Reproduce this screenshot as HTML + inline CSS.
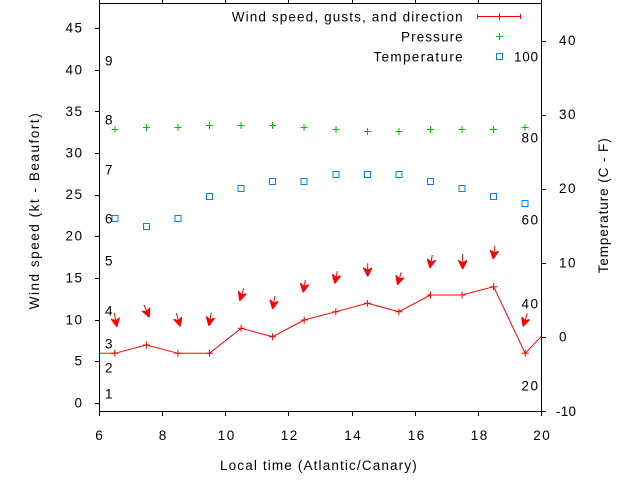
<!DOCTYPE html>
<html><head><meta charset="utf-8"><style>
html,body{margin:0;padding:0;background:#fff;}
svg{display:block;}
text{font-family:"Liberation Sans",Arial,sans-serif;font-size:13.5px;fill:#000;}
</style></head><body>
<svg width="640" height="480" viewBox="0 0 640 480" xmlns="http://www.w3.org/2000/svg">
<defs>
<marker id="ah" viewBox="0 0 10 10" refX="9" refY="5" markerWidth="9" markerHeight="9" markerUnits="userSpaceOnUse" orient="auto">
<path d="M0,0 L10,5 L0,10 L3,5 z" fill="#ff0000" stroke="#ff0000" stroke-width="1"/>
</marker>
</defs>
<rect width="640" height="480" fill="#fff"/>
<g stroke="#000" stroke-width="1" fill="none" shape-rendering="crispEdges">
<rect x="99.5" y="3.5" width="442" height="408"/>
<path d="M95,403.5h4M95,361.5h4M95,320.5h4M95,278.5h4M95,236.5h4M95,195.5h4M95,153.5h4M95,111.5h4M95,70.5h4M95,28.5h4"/>
<path d="M541,411.5h5M541,337.5h5M541,263.5h5M541,189.5h5M541,115.5h5M541,41.5h5"/>
<path d="M99.5,411v5M162.5,411v5M225.5,411v5M288.5,411v5M352.5,411v5M415.5,411v5M478.5,411v5M541.5,411v5"/>
<path d="M99.5,0v4M162.5,0v4M225.5,0v4M288.5,0v4M352.5,0v4M415.5,0v4M478.5,0v4M541.5,0v4"/>
</g>
<g text-anchor="end">
<text x="82" y="407.5">0</text>
<text x="82" y="365.5">5</text>
<text x="82" y="324.3" textLength="16.5">10</text>
<text x="82" y="282.5" textLength="16.5">15</text>
<text x="82" y="240.5" textLength="16.5">20</text>
<text x="82" y="199" textLength="16.5">25</text>
<text x="82" y="157.3" textLength="16.5">30</text>
<text x="82" y="116" textLength="16.5">35</text>
<text x="82" y="74.3" textLength="16.5">40</text>
<text x="82" y="32.3" textLength="16.5">45</text>
</g>
<g>
<text x="556" y="416" textLength="20">-10</text>
<text x="559" y="341.5">0</text>
<text x="559" y="267.5" textLength="16.5">10</text>
<text x="559" y="193" textLength="16.5">20</text>
<text x="559" y="119" textLength="16.5">30</text>
<text x="559" y="45" textLength="16.5">40</text>
</g>
<g text-anchor="middle">
<text x="99" y="440">6</text>
<text x="162.5" y="440">8</text>
<text x="226" y="440" textLength="16.5">10</text>
<text x="289" y="440" textLength="16.5">12</text>
<text x="352.5" y="440" textLength="16.5">14</text>
<text x="416" y="440" textLength="16.5">16</text>
<text x="479" y="440" textLength="16.5">18</text>
<text x="541.5" y="440" textLength="16.5">20</text>
</g>
<text x="220" y="470" textLength="196.7" lengthAdjust="spacing">Local time (Atlantic/Canary)</text>
<text transform="translate(39,309.3) rotate(-90)" textLength="196" lengthAdjust="spacing">Wind speed (kt - Beaufort)</text>
<text transform="translate(608,273.3) rotate(-90)" textLength="135" lengthAdjust="spacing">Temperature (C - F)</text>
<g>
<text x="105" y="65.3">9</text>
<text x="105" y="124.6">8</text>
<text x="105" y="174.6">7</text>
<text x="105" y="223.4">6</text>
<text x="105" y="265.3">5</text>
<text x="105" y="315.3">4</text>
<text x="105" y="348.3">3</text>
<text x="105" y="372.6">2</text>
<text x="105" y="398.6">1</text>
</g>
<g text-anchor="end">
<text x="538" y="61.5" textLength="24">100</text>
<text x="538" y="142.6" textLength="16.5">80</text>
<text x="538" y="224.6" textLength="16.5">60</text>
<text x="538" y="308.6" textLength="16.5">40</text>
<text x="538" y="390.3" textLength="16.5">20</text>
</g>
<g text-anchor="end">
<text x="462.7" y="21.7" textLength="231" lengthAdjust="spacing">Wind speed, gusts, and direction</text>
<text x="462.7" y="41.5" textLength="61.7" lengthAdjust="spacing">Pressure</text>
<text x="462.7" y="61.5" textLength="89.3" lengthAdjust="spacing">Temperature</text>
</g>
<g stroke="#ff0000" stroke-width="1" fill="none" shape-rendering="crispEdges">
<path d="M477,16.5H521M477.5,14v5M520.5,14v5M499.5,13v7M496,16.5h7"/>
</g>
<g stroke="#00c000" stroke-width="1" fill="none" shape-rendering="crispEdges">
<path d="M499.5,33v7M496,36.5h7"/>
</g>
<rect x="496.5" y="53.5" width="6" height="6" fill="none" stroke="#0080ff" stroke-width="1" shape-rendering="crispEdges"/>
<g stroke="#00c000" stroke-width="1" fill="none" shape-rendering="crispEdges">
<path d="M115,125.8v7M111.5,129.3h7
M146.4,124.2v7M142.9,127.7h7
M177.9,124.2v7M174.4,127.7h7
M209.5,121.8v7M206,125.3h7
M241.1,121.8v7M237.6,125.3h7
M272.6,121.8v7M269.1,125.3h7
M304.2,124.2v7M300.7,127.7h7
M335.8,125.8v7M332.3,129.3h7
M367.4,127.8v7M363.9,131.3h7
M398.9,127.8v7M395.4,131.3h7
M430.5,125.8v7M427,129.3h7
M462.1,125.8v7M458.6,129.3h7
M493.6,125.8v7M490.1,129.3h7
M525.2,123.8v7M521.7,127.3h7"/>
</g>
<g stroke="#0080ff" stroke-width="1" fill="none" shape-rendering="crispEdges">
<rect x="111.8" y="215.3" width="6" height="6"/>
<rect x="143.4" y="223.3" width="6" height="6"/>
<rect x="174.9" y="215.3" width="6" height="6"/>
<rect x="206.5" y="193.3" width="6" height="6"/>
<rect x="238.1" y="185.3" width="6" height="6"/>
<rect x="269.6" y="178.3" width="6" height="6"/>
<rect x="301.2" y="178.3" width="6" height="6"/>
<rect x="332.8" y="171.3" width="6" height="6"/>
<rect x="364.4" y="171.3" width="6" height="6"/>
<rect x="395.9" y="171.3" width="6" height="6"/>
<rect x="427.5" y="178.3" width="6" height="6"/>
<rect x="459.1" y="185.3" width="6" height="6"/>
<rect x="490.6" y="193.3" width="6" height="6"/>
<rect x="522.2" y="200.3" width="6" height="6"/>
</g>
<polyline fill="none" stroke="#ff0000" stroke-width="1" points="99,353.3 114.8,353.3 146.4,345 177.9,353.3 209.5,353.3 241.1,328.3 272.6,336.7 304.2,320 335.8,311.7 367.4,303.3 398.9,311.7 430.5,295 462.1,295 493.6,286.7 525.2,353.3 541,336.7"/>
<g stroke="#ff0000" stroke-width="1" fill="none">
<path d="M114.8,349.8v7M111.3,353.3h7
M146.4,341.5v7M142.9,345h7
M177.9,349.8v7M174.4,353.3h7
M209.5,349.8v7M206,353.3h7
M241.1,324.8v7M237.6,328.3h7
M272.6,333.2v7M269.1,336.7h7
M304.2,316.5v7M300.7,320h7
M335.8,308.2v7M332.3,311.7h7
M367.4,299.8v7M363.9,303.3h7
M398.9,308.2v7M395.4,311.7h7
M430.5,291.5v7M427,295h7
M462.1,291.5v7M458.6,295h7
M493.6,283.2v7M490.1,286.7h7
M525.2,349.8v7M521.7,353.3h7"/>
</g>
<g stroke="#ff0000" stroke-width="1" fill="none" marker-end="url(#ah)">
<line x1="114.3" y1="312.7" x2="116.7" y2="326"/>
<line x1="144" y1="305" x2="149" y2="316.5"/>
<line x1="176.3" y1="313.3" x2="180" y2="325.7"/>
<line x1="211.3" y1="312.7" x2="209" y2="325"/>
<line x1="243.7" y1="288.3" x2="240" y2="300"/>
<line x1="275" y1="296" x2="272.7" y2="308.3"/>
<line x1="305.3" y1="280" x2="303.3" y2="291.7"/>
<line x1="337.3" y1="271" x2="335" y2="282.7"/>
<line x1="367.7" y1="263.3" x2="367.7" y2="275.7"/>
<line x1="401.3" y1="272.3" x2="397.7" y2="284"/>
<line x1="432.3" y1="255" x2="430" y2="267.3"/>
<line x1="462.7" y1="254" x2="462.7" y2="268.3"/>
<line x1="495" y1="245.7" x2="493.3" y2="258.3"/>
<line x1="527.3" y1="313.3" x2="523.3" y2="325.7"/>
</g>
</svg>
</body></html>
